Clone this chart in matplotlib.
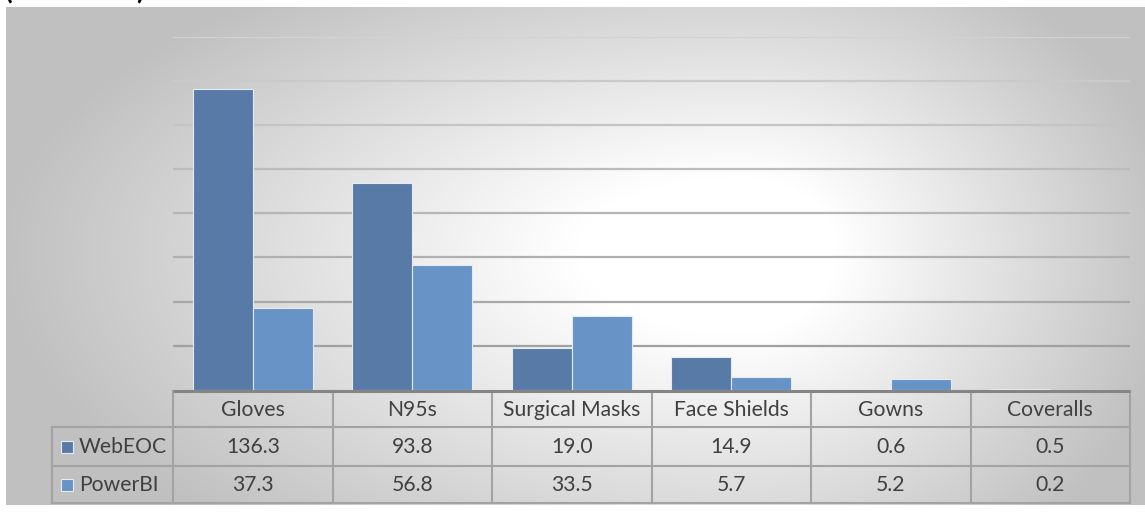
import numpy as np
import matplotlib
matplotlib.use("Agg")
import matplotlib.pyplot as plt
from matplotlib.patches import Rectangle

categories = ["Gloves", "N95s", "Surgical Masks", "Face Shields", "Gowns", "Coveralls"]
series_names = ["WebEOC", "PowerBI"]
webeoc = [136.3, 93.8, 19.0, 14.9, 0.6, 0.5]
powerbi = [37.3, 56.8, 33.5, 5.7, 5.2, 0.2]
yticks = [20, 40, 60, 80, 100, 120, 140, 160]
title = "(in millions)"

colors = ["#587aa6", "#6893c7"]
FONT = "Lato"
TXT = "#404040"
FS = 15.2
W, H = 1145, 512

fig = plt.figure(figsize=(W / 100, H / 100), dpi=100)

# background gradient panel (pixel coordinates)
bg = fig.add_axes([0, 0, 1, 1])
bg.set_xlim(0, W)
bg.set_ylim(H, 0)
bg.axis("off")
x0, x1, y0, y1 = 6, W, 7, 505
xs = np.arange(x0, x1) + 0.5
ys = np.arange(y0, y1) + 0.5
X, Y = np.meshgrid(xs, ys)
cx, cy = 740, 250
sx = np.where(X < cx, 740.0, 440.0)
sy = np.where(Y < cy, 330.0, 380.0)
r = np.sqrt(((X - cx) / sx) ** 2 + ((Y - cy) / sy) ** 2)
t = np.clip((r - 0.22) / 0.78, 0, 1)
v = (255 - 63 * t) / 255.0
img = np.dstack([v, v, v])
bg.imshow(img, extent=[x0, x1, y1, y0], aspect="auto", interpolation="bilinear", zorder=0)
bg.set_xlim(0, W)
bg.set_ylim(H, 0)

fig.text(5 / W, 1.0 + 1 / H, title, ha="left", va="baseline", fontsize=20,
         fontweight="bold", family=FONT, color="black")

# main axes
left_px, right_px, top_px, base_px = 173, 1130, 36.5, 390
ax = fig.add_axes([left_px / W, (H - base_px) / H, (right_px - left_px) / W,
                   (base_px - top_px) / H])
ax.patch.set_alpha(0)
ax.set_xlim(-0.5, len(categories) - 0.5)
ax.set_ylim(0, 160)
for s in ax.spines.values():
    s.set_visible(False)
ax.set_xticks([])
ax.set_yticks([])

gcols = ["#a0a0a0", "#a8a8a8", "#b0b0b0", "#b6b6b6", "#bcbcbc", "#c4c4c4", "#cacaca", "#d2d2d2"]
for yv, gc in zip(yticks, gcols):
    ax.axhline(yv, color=gc, lw=1.6, zorder=1)

x = np.arange(len(categories))
bw = 0.375
for i, (vals, c) in enumerate(zip([webeoc, powerbi], colors)):
    ax.bar(x + (i - 0.5) * bw, vals, width=bw, color=c, edgecolor="#e3ebf5",
           linewidth=0.8, zorder=3)

# table
ph = base_px - top_px
def yf(py):
    return (base_px - py) / ph

tr = ax.get_xaxis_transform()
lc = "#a3a3a3"
label_left = -0.5 - (left_px - 52) / ((right_px - left_px) / len(categories))
ax.plot([-0.5, len(categories) - 0.5], [yf(390.5)] * 2, transform=tr, color="#858585",
        lw=2.2, clip_on=False, zorder=5, solid_capstyle="butt")
for py in [427, 466, 503]:
    ax.plot([label_left, len(categories) - 0.5], [yf(py)] * 2, transform=tr, color=lc,
            lw=1.5, clip_on=False, zorder=4)
for xb in np.arange(len(categories) + 1) - 0.5:
    ax.plot([xb, xb], [yf(391), yf(503)], transform=tr, color=lc, lw=1.5,
            clip_on=False, zorder=4)
ax.plot([label_left, label_left], [yf(427), yf(503)], transform=tr, color=lc, lw=1.5,
        clip_on=False, zorder=4)

for i, cat in enumerate(categories):
    ax.text(i, yf(410), cat, transform=tr, ha="center", va="center", fontsize=FS,
            family=FONT, color=TXT, clip_on=False)
    ax.text(i, yf(447), f"{webeoc[i]:.1f}", transform=tr, ha="center", va="center",
            fontsize=FS, family=FONT, color=TXT, clip_on=False)
    ax.text(i, yf(485), f"{powerbi[i]:.1f}", transform=tr, ha="center", va="center",
            fontsize=FS, family=FONT, color=TXT, clip_on=False)

# legend keys in the label column
for name, c, py in zip(series_names, colors, [447, 485]):
    bg.add_patch(Rectangle((61, py - 6), 12, 12, facecolor=c, edgecolor="#e3ebf5", lw=0.8))
    bg.text(79, py, name, ha="left", va="center", fontsize=FS, family=FONT, color=TXT)

fig.savefig("out.png", dpi=100)
